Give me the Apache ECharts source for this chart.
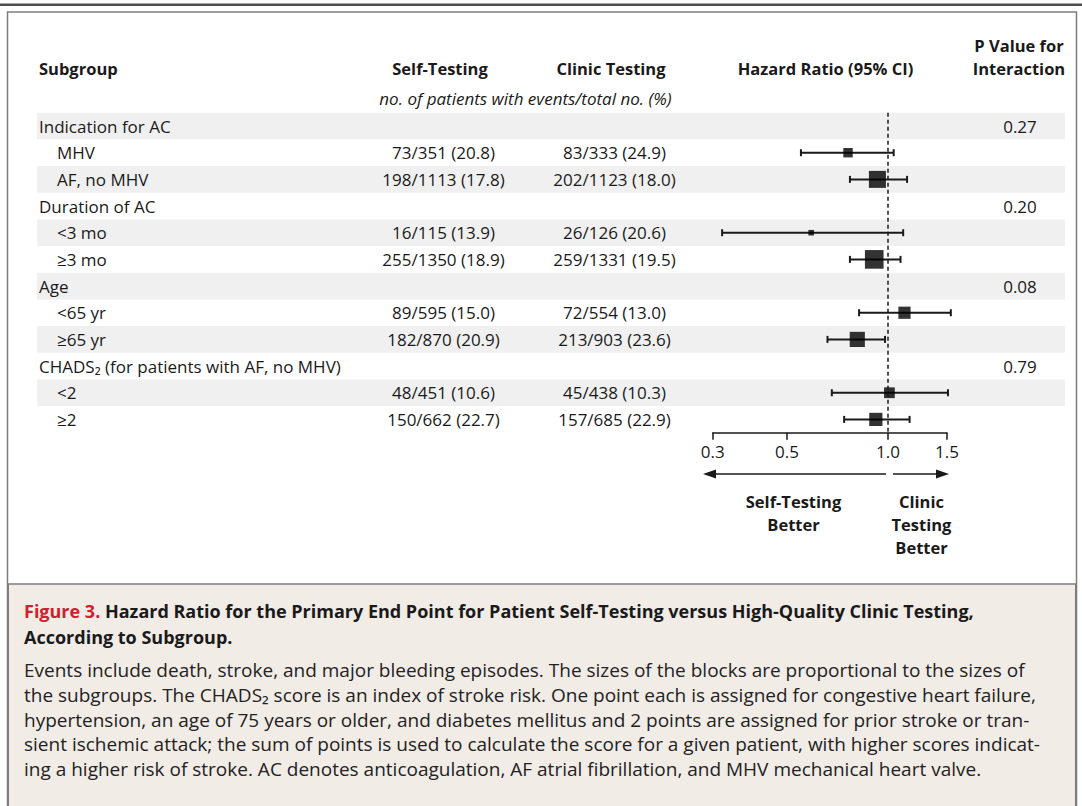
<!DOCTYPE html>
<html>
<head>
<meta charset="utf-8">
<script src="https://cdn.jsdelivr.net/npm/echarts@6/dist/echarts.min.js"></script>
<style>
  html, body { margin: 0; padding: 0; background: #ffffff; }
  #chart { width: 1082px; height: 806px; }
</style>
</head>
<body>
<div id="chart"></div>
<script>
// Subgroup rows, top to bottom (level 0 = heading, level 1 = subgroup)
const subgroups = [
  'Indication for AC', 'MHV', 'AF, no MHV',
  'Duration of AC', '<3 mo', '≥3 mo',
  'Age', '<65 yr', '≥65 yr',
  'CHADS₂ (for patients with AF, no MHV)', '<2', '≥2'
];
const rowLevels = [0, 1, 1, 0, 1, 1, 0, 1, 1, 0, 1, 1];

// no. of patients with events / total no. (%)
const selfTesting = [
  '', '73/351 (20.8)', '198/1113 (17.8)',
  '', '16/115 (13.9)', '255/1350 (18.9)',
  '', '89/595 (15.0)', '182/870 (20.9)',
  '', '48/451 (10.6)', '150/662 (22.7)'
];
const clinicTesting = [
  '', '83/333 (24.9)', '202/1123 (18.0)',
  '', '26/126 (20.6)', '259/1331 (19.5)',
  '', '72/554 (13.0)', '213/903 (23.6)',
  '', '45/438 (10.3)', '157/685 (22.9)'
];
const pInteraction = ['0.27', '', '', '0.20', '', '', '0.08', '', '', '0.79', '', ''];

// Hazard ratios with 95% CI
const hazardRatio = [null, 0.76, 0.93, null, 0.59, 0.91, null, 1.12, 0.81, null, 1.01, 0.92];
const ciLower     = [null, 0.55, 0.77, null, 0.32, 0.77, null, 0.82, 0.66, null, 0.68, 0.74];
const ciUpper     = [null, 1.04, 1.14, null, 1.11, 1.09, null, 1.54, 0.98, null, 1.51, 1.16];
// Subgroup sizes (both arms), used for block sizes
const subgroupSize = [null, 684, 2236, null, 241, 2681, null, 1149, 1773, null, 889, 1347];

const hrTicks = [0.3, 0.5, 1.0, 1.5];

const captionTitleRed = 'Figure 3.';
const captionTitle = [
  'Hazard Ratio for the Primary End Point for Patient Self-Testing versus High-Quality Clinic Testing,',
  'According to Subgroup.'
];
const captionBody = [
  'Events include death, stroke, and major bleeding episodes. The sizes of the blocks are proportional to the sizes of',
  'the subgroups. The CHADS₂ score is an index of stroke risk. One point each is assigned for congestive heart failure,',
  'hypertension, an age of 75 years or older, and diabetes mellitus and 2 points are assigned for prior stroke or tran-',
  'sient ischemic attack; the sum of points is used to calculate the score for a given patient, with higher scores indicat-',
  'ing a higher risk of stroke. AC denotes anticoagulation, AF atrial fibrillation, and MHV mechanical heart valve.'
];

// ---- layout ----
const FAMILY = '"Open Sans", "Noto Sans", sans-serif';
const INK = '#1a1a1a';
const ROW_TOP = 112.7;
const ROW_H = 26.67;
const TABLE_LEFT = 37, TABLE_RIGHT = 1065;
const PLOT_LEFT = 712.7, PLOT_RIGHT = 947;
const COL_LABEL = [39, 57];
const COL_SELF = 443.5, COL_CLINIC = 614.5, COL_P = 1020;
const BLOCK_SCALE = 0.36;
const HEAD_FONT = 'bold 16.5px ' + FAMILY;
const CELL_FONT = '17px ' + FAMILY;

const log10 = v => Math.log10(v);

const chart = echarts.init(document.getElementById('chart'), null, { renderer: 'svg' });

function txt(text, x, y, font, align, fill) {
  return {
    type: 'text',
    style: {
      text: text, x: x, y: y, font: font, fill: fill || INK,
      align: align || 'left', textAlign: align || 'left',
      verticalAlign: 'middle', textVerticalAlign: 'middle'
    }
  };
}

const rowIdx = subgroups.map((s, i) => i);
const forestRows = rowIdx.filter(i => hazardRatio[i] != null);

const graphics = [
  // top rule and frame
  { type: 'rect', shape: { x: 0, y: 3.5, width: 1082, height: 2.5 }, style: { fill: '#4d4d4d' } },
  { type: 'rect', shape: { x: 7.5, y: 12, width: 1069, height: 800 }, style: { fill: 'none', stroke: '#7d7d7d', lineWidth: 1.5 } },
  { type: 'rect', shape: { x: 8.25, y: 584, width: 1067.5, height: 230 }, style: { fill: '#f2ece7', stroke: '#7d7d7d', lineWidth: 1.5 } },
  // column headers
  txt('Subgroup', 39, 68, HEAD_FONT),
  txt('Self-Testing', 440, 68, HEAD_FONT, 'center'),
  txt('Clinic Testing', 611, 68, HEAD_FONT, 'center'),
  txt('Hazard Ratio (95% CI)', 825.5, 68, HEAD_FONT, 'center'),
  txt('P Value for', 1019, 45, HEAD_FONT, 'center'),
  txt('Interaction', 1019, 68, HEAD_FONT, 'center'),
  txt('no. of patients with events/total no. (%)', 525.5, 98, 'italic 17px ' + FAMILY, 'center'),
  // direction arrows under the axis
  { type: 'polyline', shape: { points: [[886, 474], [712, 474]] }, style: { stroke: INK, lineWidth: 1.5 } },
  { type: 'polygon', shape: { points: [[703, 474], [716, 469.5], [716, 478.5]] }, style: { fill: INK } },
  { type: 'polyline', shape: { points: [[893, 474], [940, 474]] }, style: { stroke: INK, lineWidth: 1.5 } },
  { type: 'polygon', shape: { points: [[949, 474], [936, 469.5], [936, 478.5]] }, style: { fill: INK } },
  txt('Self-Testing', 793.5, 501, HEAD_FONT, 'center'),
  txt('Better', 793.5, 524, HEAD_FONT, 'center'),
  txt('Clinic', 921.5, 501, HEAD_FONT, 'center'),
  txt('Testing', 921.5, 524, HEAD_FONT, 'center'),
  txt('Better', 921.5, 547, HEAD_FONT, 'center'),
  // caption
  {
    type: 'text',
    style: {
      text: '{r|' + captionTitleRed + '} {b|' + captionTitle[0] + '}',
      x: 24, y: 611, verticalAlign: 'middle', textVerticalAlign: 'middle',
      rich: {
        r: { font: 'bold 18px ' + FAMILY, fill: '#d0202e' },
        b: { font: 'bold 18px ' + FAMILY, fill: INK }
      },
      font: 'bold 18px ' + FAMILY
    }
  },
  txt(captionTitle[1], 24, 637, 'bold 18px ' + FAMILY)
];
const bodyY = [670, 695, 719.5, 744, 768.5];
captionBody.forEach((line, i) => graphics.push(txt(line, 24, bodyY[i], '19px ' + FAMILY, 'left', '#222222')));

const option = {
  animation: false,
  backgroundColor: '#ffffff',
  grid: [
    { left: TABLE_LEFT, top: ROW_TOP, width: TABLE_RIGHT - TABLE_LEFT, height: ROW_H * subgroups.length },
    { left: PLOT_LEFT, top: ROW_TOP, width: PLOT_RIGHT - PLOT_LEFT, height: ROW_H * subgroups.length }
  ],
  xAxis: [
    { gridIndex: 0, type: 'value', min: 0, max: 1, show: false },
    {
      gridIndex: 1, type: 'value', min: log10(0.3), max: log10(1.5),
      axisLine: { show: true, onZero: false, lineStyle: { color: INK, width: 1.5 } },
      axisTick: { show: true, length: 7, customValues: hrTicks.map(log10), lineStyle: { color: INK, width: 1.5 } },
      axisLabel: {
        customValues: hrTicks.map(log10),
        formatter: v => Math.pow(10, v).toFixed(1),
        margin: 10, color: INK, fontSize: 17, fontFamily: FAMILY
      },
      splitLine: { show: false }
    }
  ],
  yAxis: [
    { gridIndex: 0, type: 'category', data: subgroups, inverse: true, show: false },
    { gridIndex: 1, type: 'category', data: subgroups, inverse: true, show: false }
  ],
  graphic: graphics,
  series: [
    {
      // table rows: banding + text cells
      type: 'custom', xAxisIndex: 0, yAxisIndex: 0, z: 1, silent: true,
      data: rowIdx.map(i => [0, i]),
      renderItem: function (params, api) {
        const i = api.value(1);
        const c = api.coord([0, i]);
        const h = api.size([0, 1])[1];
        const cs = params.coordSys;
        const children = [];
        if (i % 2 === 0) {
          children.push({ type: 'rect', shape: { x: cs.x, y: c[1] - h / 2, width: cs.width, height: h }, style: { fill: '#f0f0f0' } });
        }
        children.push(txt(subgroups[i], COL_LABEL[rowLevels[i]], c[1], CELL_FONT));
        if (selfTesting[i]) children.push(txt(selfTesting[i], COL_SELF, c[1], CELL_FONT, 'center'));
        if (clinicTesting[i]) children.push(txt(clinicTesting[i], COL_CLINIC, c[1], CELL_FONT, 'center'));
        if (pInteraction[i]) children.push(txt(pInteraction[i], COL_P, c[1], CELL_FONT, 'center'));
        return { type: 'group', children: children };
      }
    },
    {
      // 95% confidence intervals
      type: 'custom', xAxisIndex: 1, yAxisIndex: 1, z: 3, clip: false, silent: true,
      data: forestRows.map(i => [log10(ciLower[i]), i, log10(ciUpper[i])]),
      encode: { x: [0, 2], y: 1 },
      renderItem: function (params, api) {
        const a = api.coord([api.value(0), api.value(1)]);
        const b = api.coord([api.value(2), api.value(1)]);
        const cap = 3.5;
        const st = { stroke: INK, lineWidth: 2 };
        return {
          type: 'group',
          children: [
            { type: 'line', shape: { x1: a[0], y1: a[1], x2: b[0], y2: b[1] }, style: st },
            { type: 'line', shape: { x1: a[0], y1: a[1] - cap, x2: a[0], y2: a[1] + cap }, style: st },
            { type: 'line', shape: { x1: b[0], y1: b[1] - cap, x2: b[0], y2: b[1] + cap }, style: st }
          ]
        };
      }
    },
    {
      // hazard-ratio blocks, area proportional to subgroup size
      type: 'scatter', xAxisIndex: 1, yAxisIndex: 1, z: 4, silent: true,
      symbol: 'rect',
      symbolSize: v => BLOCK_SCALE * Math.sqrt(v[2]),
      itemStyle: { color: '#000000' },
      data: forestRows.map(i => [log10(hazardRatio[i]), i, subgroupSize[i]]),
      markLine: {
        silent: true, symbol: 'none', label: { show: false },
        lineStyle: { color: INK, type: [4, 3], width: 1.5 },
        data: [{ xAxis: log10(1.0) }]
      }
    }
  ]
};

chart.setOption(option);
</script>
</body>
</html>
